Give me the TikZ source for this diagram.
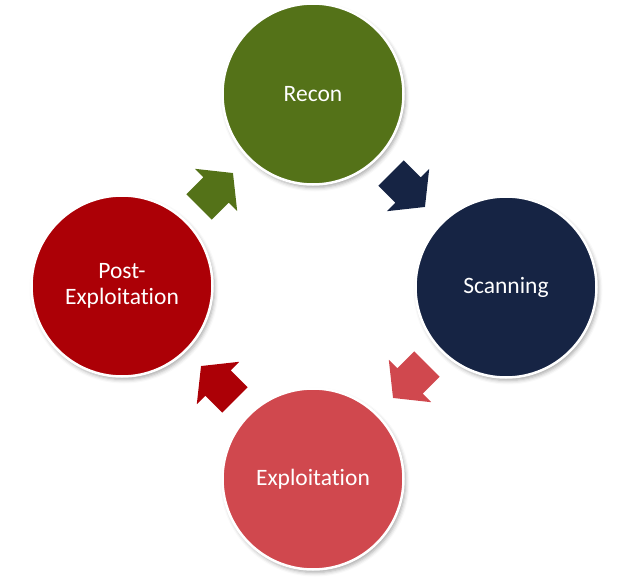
\documentclass[tikz,border=0pt]{standalone}
\usepackage{fontspec}
\setmainfont[Ligatures=NoCommon]{Carlito}
\usetikzlibrary{shadows.blur}
\definecolor{reconC}{RGB}{84,114,24}
\definecolor{scanC}{RGB}{22,36,68}
\definecolor{exploitC}{RGB}{208,72,78}
\definecolor{postC}{RGB}{172,0,6}
\tikzset{
  phase/.style={circle, draw=white, line width=2.5pt, minimum size=181pt, inner sep=0pt,
    text=white, align=center, font=\fontsize{23.5}{25.5}\selectfont,
    blur shadow={shadow xshift=2pt, shadow yshift=-3pt, shadow blur radius=4pt, shadow opacity=35}},
  blockarrow/.pic={
    \path[pic actions] (-24,-18) -- (0,-18) -- (0,-30) -- (24,0) -- (0,30) -- (0,18) -- (-24,18) -- cycle;
  },
  arrowstyle/.style={blur shadow={shadow xshift=2pt, shadow yshift=-3pt, shadow blur radius=3pt, shadow opacity=30}}
}
\begin{document}
\begin{tikzpicture}[x=1pt,y=-1pt]
\useasboundingbox (0,0) rectangle (627,586);
\node[phase, fill=reconC] (recon) at (313,94) {Recon};
\node[phase, fill=scanC] (scan) at (506,287) {Scanning};
\node[phase, fill=exploitC] (exploit) at (313,479) {Exploitation};
\node[phase, fill=postC] (post) at (122,286) {Post-\\Exploitation};
\pic[rotate=45, fill=reconC, arrowstyle] at (216,190) {blockarrow};
\pic[rotate=-45, fill=scanC, arrowstyle] at (408,190) {blockarrow};
\pic[rotate=-135, fill=exploitC, arrowstyle] at (410,381) {blockarrow};
\pic[rotate=135, fill=postC, arrowstyle] at (218,383) {blockarrow};
\end{tikzpicture}
\end{document}
